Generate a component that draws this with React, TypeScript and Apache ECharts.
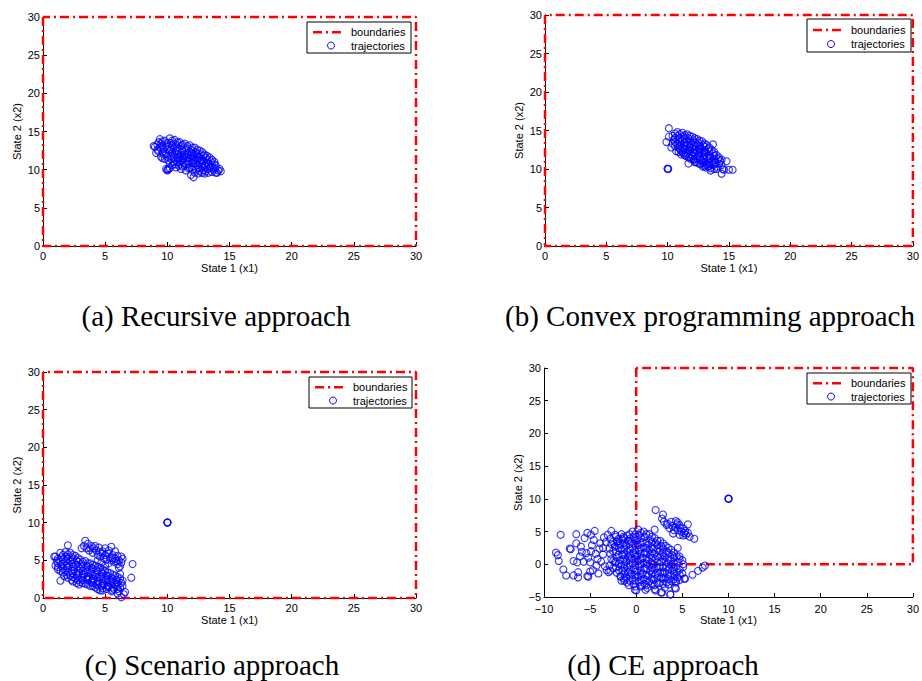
import React, { useEffect, useRef } from "react";
import * as echarts from "echarts";

// ---------- data ----------
const captions = ["(a) Recursive approach", "(b) Convex programming approach", "(c) Scenario approach", "(d) CE approach"];
const legendNames = ["boundaries", "trajectories"];
const xAxisName = "State 1 (x1)";
const yAxisName = "State 2 (x2)";
// axis ranges [min, max] per panel
const xRanges = [[0, 30], [0, 30], [0, 30], [-10, 30]];
const yRanges = [[0, 30], [0, 30], [0, 30], [-5, 30]];
// boundary polygon (same for all panels)
const boundary = [[0, 30], [0, 0], [30, 0], [30, 30], [0, 30]];

const recursivePoints = [
  [9.0, 13.0], [9.1, 12.2], [9.2, 12.6], [8.9, 13.1],
  [9.4, 14.0], [9.5, 13.4], [9.4, 12.9], [9.6, 12.3], [9.5, 11.7], [9.3, 13.6],
  [9.8, 13.8], [9.9, 13.2], [9.7, 12.7], [9.9, 12.1], [9.8, 11.4], [10.0, 10.0], [10.1, 10.1], [10.0, 9.9], [9.9, 10.1],
  [10.2, 14.1], [10.3, 13.5], [10.1, 13.0], [10.2, 12.4], [10.3, 11.8], [10.1, 11.2], [10.4, 10.6], [10.2, 10.2],
  [10.6, 13.9], [10.7, 13.3], [10.5, 12.8], [10.6, 12.2], [10.8, 11.6], [10.5, 11.0], [10.7, 10.3],
  [11.0, 13.6], [11.1, 13.1], [10.9, 12.5], [11.0, 11.9], [11.2, 11.3], [11.0, 10.7], [11.1, 10.1],
  [11.4, 13.4], [11.5, 12.8], [11.3, 12.3], [11.4, 11.7], [11.6, 11.1], [11.4, 10.5], [11.5, 9.9],
  [11.8, 13.2], [11.9, 12.6], [11.7, 12.0], [11.8, 11.5], [12.0, 10.9], [11.8, 10.3], [11.9, 9.3],
  [12.2, 12.9], [12.3, 12.3], [12.1, 11.8], [12.2, 11.2], [12.4, 10.6], [12.1, 9.0], [12.3, 10.0],
  [12.6, 12.5], [12.7, 12.0], [12.5, 11.5], [12.6, 10.9], [12.8, 10.4], [12.6, 9.8],
  [13.0, 12.0], [13.1, 11.6], [12.9, 11.1], [13.0, 10.6], [13.2, 10.1], [13.0, 9.5],
  [13.4, 11.6], [13.5, 11.1], [13.3, 10.7], [13.4, 10.2], [13.6, 9.7],
  [13.8, 11.0], [13.9, 10.5], [13.7, 10.0], [14.0, 9.6],
  [14.2, 10.1], [14.3, 9.8],
  [10.0, 12.7], [10.4, 12.1], [10.8, 12.9], [11.2, 12.6], [11.6, 12.2], [12.0, 11.5], [12.4, 11.3],
  [12.8, 11.2], [13.2, 10.9], [10.4, 13.2], [10.9, 11.3], [11.3, 10.9], [11.7, 10.8], [12.1, 10.4],
  [12.5, 10.2], [12.9, 9.9], [13.3, 9.6], [9.6, 13.1], [10.6, 11.6], [11.9, 11.9], [12.6, 11.7], [13.6, 10.6],
  [9.2, 13.3], [9.3, 12.4], [9.6, 13.7], [9.7, 12.0], [9.6, 11.5], [10.0, 13.5], [10.0, 11.7], [10.2, 10.8],
  [10.4, 13.8], [10.3, 12.6], [10.3, 11.4], [10.6, 10.7], [10.8, 13.6], [10.7, 12.5], [10.8, 12.0], [10.9, 10.5],
  [11.2, 13.3], [11.2, 11.9], [11.3, 11.5], [11.2, 10.4], [11.6, 13.1], [11.6, 11.6], [11.5, 10.7], [11.7, 10.2],
  [12.0, 12.9], [12.0, 12.2], [12.1, 11.0], [12.0, 10.0], [12.2, 9.6], [12.4, 12.6], [12.4, 12.0], [12.3, 10.8],
  [12.5, 9.5], [12.8, 12.3], [12.9, 11.8], [12.8, 10.7], [12.8, 9.6], [13.2, 11.8], [13.2, 11.3], [13.1, 10.4],
  [13.1, 9.8], [13.6, 11.3], [13.5, 10.4], [13.8, 10.7], [13.8, 10.2], [14.1, 9.9], [13.9, 9.6], [11.4, 12.0],
  [11.0, 11.5], [10.8, 11.0], [12.2, 11.6], [12.7, 11.3]
];

const convexPoints = [
  [10.4, 14.3], [10.5, 13.8], [10.4, 13.3],
  [10.8, 14.8], [10.8, 14.3], [10.9, 13.8], [10.8, 13.3], [10.9, 12.8], [10.7, 12.3],
  [11.2, 14.7], [11.3, 14.2], [11.2, 13.7], [11.1, 13.2], [11.3, 12.7], [11.2, 12.2], [11.1, 11.9],
  [11.6, 14.5], [11.7, 14.0], [11.5, 13.5], [11.6, 13.0], [11.7, 12.5], [11.5, 12.0], [11.7, 11.5],
  [12.0, 14.2], [12.1, 13.7], [11.9, 13.2], [12.0, 12.7], [12.1, 12.2], [12.0, 11.7], [12.1, 11.2],
  [12.4, 13.9], [12.5, 13.4], [12.3, 12.9], [12.4, 12.4], [12.5, 11.9], [12.4, 11.4], [12.3, 10.9],
  [12.8, 13.6], [12.9, 13.1], [12.7, 12.6], [12.8, 12.1], [12.9, 11.6], [12.8, 11.1], [12.7, 10.6],
  [13.2, 13.1], [13.3, 12.6], [13.1, 12.1], [13.2, 11.6], [13.3, 11.1], [13.2, 10.6], [13.1, 10.2],
  [13.6, 12.5], [13.7, 12.0], [13.5, 11.5], [13.6, 11.0], [13.7, 10.5], [13.5, 10.1],
  [14.0, 11.8], [14.1, 11.3], [13.9, 10.8], [14.0, 10.3],
  [14.3, 11.0], [14.4, 10.5],
  [11.0, 14.0], [11.4, 13.4], [11.8, 12.8], [12.2, 12.5], [12.6, 12.2], [13.0, 11.8], [13.4, 11.4],
  [13.8, 11.2], [11.4, 12.5], [11.9, 11.9], [12.6, 11.6], [13.0, 10.9], [13.4, 10.8], [11.0, 12.6],
  [12.2, 13.4], [12.6, 13.0], [13.0, 12.5],
  [10.6, 14.6], [10.6, 14.0], [10.6, 13.5], [10.6, 13.0], [11.0, 14.5], [11.0, 13.5], [11.0, 13.0], [10.9, 12.2],
  [11.4, 14.4], [11.4, 14.0], [11.4, 13.0], [11.3, 12.0], [11.4, 11.8], [11.8, 14.3], [11.8, 13.6], [11.8, 13.0],
  [11.8, 12.3], [11.8, 11.6], [12.2, 14.0], [12.2, 13.0], [12.2, 12.0], [12.2, 11.3], [12.2, 10.9], [12.6, 13.7],
  [12.6, 12.6], [12.6, 11.2], [12.6, 10.7], [13.0, 13.3], [13.0, 12.9], [13.0, 12.2], [13.0, 11.4], [13.0, 10.5],
  [13.4, 12.8], [13.4, 12.2], [13.4, 11.7], [13.4, 10.4], [13.8, 12.2], [13.8, 11.7], [13.8, 10.6], [13.8, 10.0],
  [14.2, 11.5], [14.2, 10.7], [14.0, 10.0], [11.1, 12.4], [11.5, 11.7], [11.9, 11.3], [12.4, 10.8], [12.9, 10.8],
  [13.3, 10.3], [14.4, 11.2],
  [10.1, 15.3], [9.9, 13.5], [10.3, 12.8], [10.1, 14.2], [11.7, 10.7], [13.5, 9.8], [14.4, 9.4],
  [14.6, 9.9], [14.8, 11.0], [15.0, 9.9], [15.3, 9.9], [13.7, 13.2], [12.9, 10.3], [14.5, 10.0],
  [10.0, 10.0], [10.05, 10.0], [10.0, 10.05]
];

const scenarioPoints = [
  [1.0, 5.5], [1.1, 4.9], [1.0, 4.3], [1.2, 3.8],
  [1.4, 6.0], [1.5, 5.4], [1.4, 4.8], [1.5, 4.2], [1.4, 3.6], [1.4, 2.3],
  [1.8, 6.1], [1.9, 5.5], [1.8, 4.9], [1.9, 4.3], [1.8, 3.7], [1.9, 3.1],
  [2.2, 6.0], [2.3, 5.4], [2.2, 4.8], [2.1, 4.2], [2.3, 3.6], [2.2, 3.0], [2.3, 2.4],
  [2.6, 5.6], [2.7, 5.0], [2.6, 4.4], [2.5, 3.8], [2.7, 3.2], [2.6, 2.6], [2.7, 2.0],
  [3.0, 5.1], [3.1, 4.5], [3.0, 3.9], [2.9, 3.3], [3.1, 2.7], [3.0, 2.1], [2.9, 1.8],
  [3.4, 4.9], [3.5, 4.3], [3.4, 3.7], [3.3, 3.1], [3.5, 2.5], [3.4, 1.9],
  [3.8, 4.6], [3.9, 4.0], [3.8, 3.4], [3.7, 2.8], [3.9, 2.2], [3.8, 1.6],
  [4.2, 4.3], [4.3, 3.7], [4.2, 3.1], [4.1, 2.5], [4.3, 1.9], [4.2, 1.4],
  [4.6, 4.0], [4.7, 3.4], [4.6, 2.8], [4.5, 2.2], [4.7, 1.6], [4.6, 1.0],
  [5.0, 3.6], [5.1, 3.0], [5.0, 2.4], [4.9, 1.8], [5.1, 1.2],
  [5.4, 3.3], [5.5, 2.7], [5.4, 2.1], [5.3, 1.5], [5.5, 0.9],
  [5.8, 3.0], [5.9, 2.4], [5.8, 1.8], [5.7, 1.2],
  [6.2, 2.6], [6.3, 2.0], [6.2, 1.4], [6.1, 0.9], [6.3, 0.1],
  [0.9, 5.5], [7.2, 4.5], [7.1, 2.7], [6.6, 0.8], [2.0, 7.0], [6.1, 4.0], [6.2, 3.2],
  [1.6, 5.1], [2.0, 4.6], [2.4, 4.1], [2.8, 3.6], [3.2, 3.2], [3.6, 2.9], [4.0, 2.6], [4.4, 2.3],
  [4.8, 2.0], [5.2, 1.7], [5.6, 1.4], [2.0, 5.8], [2.8, 4.8], [3.6, 4.1], [4.4, 3.5], [5.2, 2.9],
  [6.0, 2.1], [1.6, 3.9], [2.4, 3.3], [3.2, 2.4], [4.0, 2.0], [4.8, 1.3],
  [1.2, 5.2], [1.2, 4.6], [1.2, 4.1], [1.6, 5.7], [1.6, 4.5], [1.6, 3.4], [1.7, 2.9], [2.0, 5.2],
  [2.0, 4.0], [2.0, 3.4], [2.0, 2.7], [2.4, 5.7], [2.4, 5.1], [2.4, 4.5], [2.4, 2.8], [2.4, 2.2],
  [2.8, 5.3], [2.8, 4.2], [2.8, 3.0], [2.8, 2.4], [3.2, 4.8], [3.2, 4.2], [3.2, 3.6], [3.2, 2.0],
  [3.6, 4.6], [3.6, 3.5], [3.6, 2.4], [3.6, 1.8], [4.0, 4.4], [4.0, 3.8], [4.0, 3.2], [4.0, 1.6],
  [4.4, 4.1], [4.4, 2.8], [4.4, 1.7], [4.4, 1.2], [4.8, 3.8], [4.8, 3.2], [4.8, 2.6], [4.8, 1.0],
  [5.2, 3.4], [5.2, 2.3], [5.2, 1.5], [5.6, 3.1], [5.6, 2.5], [5.6, 2.0], [5.6, 1.0], [6.0, 2.8],
  [6.0, 1.6], [6.0, 1.2], [6.4, 2.3], [6.4, 1.6], [6.0, 0.6], [6.5, 0.5],
  [3.4, 7.6], [3.6, 7.2], [3.3, 6.9], [3.9, 6.9], [4.1, 6.6], [4.3, 6.3], [3.7, 6.3], [4.0, 6.0],
  [4.6, 6.1], [5.0, 6.6], [5.5, 6.8], [4.8, 6.2], [5.2, 5.9], [5.6, 5.7], [6.0, 5.6], [6.3, 5.5],
  [5.0, 5.7], [5.4, 5.3], [5.8, 5.2], [6.1, 5.0], [4.6, 5.5], [5.1, 5.1], [5.7, 4.8], [6.0, 4.5],
  [4.4, 5.0], [5.3, 4.6], [6.2, 4.2], [3.1, 6.6], [4.5, 6.7],
  [3.5, 6.6], [3.8, 6.6], [4.2, 6.9], [4.4, 5.7], [4.8, 5.9], [5.3, 6.3], [5.8, 6.2], [5.6, 5.3],
  [5.9, 4.9], [6.3, 4.7], [4.9, 5.3], [5.5, 5.0], [4.7, 4.7], [6.4, 5.2], [5.0, 4.3],
  [10.0, 10.0], [10.02, 10.02], [10.0, 10.04]
];

const cePoints = [
  [-2.8, 3.9], [-2.7, 3.1], [-2.9, 2.4], [-2.8, 1.6], [-2.7, 0.8], [-2.9, -0.2], [-2.8, -1.0],
  [-2.2, 4.2], [-2.1, 3.5], [-2.3, 2.7], [-2.2, 1.9], [-2.1, 1.1], [-2.3, 0.3], [-2.2, -0.5], [-2.1, -1.3],
  [-1.6, 4.6], [-1.5, 3.8], [-1.7, 3.0], [-1.6, 2.2], [-1.5, 1.4], [-1.7, 0.6], [-1.6, -0.2], [-1.5, -1.0], [-1.7, -1.8], [-1.6, -2.5],
  [-1.0, 4.4], [-0.9, 3.6], [-1.1, 2.8], [-1.0, 2.0], [-0.9, 1.2], [-1.1, 0.4], [-1.0, -0.4], [-0.9, -1.2], [-1.1, -2.0], [-1.0, -2.8],
  [-0.4, 5.0], [-0.3, 4.2], [-0.5, 3.4], [-0.4, 2.6], [-0.3, 1.8], [-0.5, 1.0], [-0.4, 0.2], [-0.3, -0.6], [-0.5, -1.4], [-0.4, -2.2], [-0.3, -3.0],
  [0.2, 5.3], [0.3, 4.5], [0.1, 3.7], [0.2, 2.9], [0.3, 2.1], [0.1, 1.3], [0.2, 0.5], [0.3, -0.3], [0.1, -1.1], [0.2, -1.9], [0.3, -2.7], [0.0, -4.0],
  [0.8, 5.0], [0.9, 4.2], [0.7, 3.4], [0.8, 2.6], [0.9, 1.8], [0.7, 1.0], [0.8, 0.2], [0.9, -0.6], [0.7, -1.4], [0.8, -2.2], [0.9, -3.0],
  [1.4, 4.6], [1.5, 3.8], [1.3, 3.0], [1.4, 2.2], [1.5, 1.4], [1.3, 0.6], [1.4, -0.2], [1.5, -1.0], [1.3, -1.8], [1.4, -2.6], [1.2, -3.6],
  [2.0, 4.0], [2.1, 3.2], [1.9, 2.4], [2.0, 1.6], [2.1, 0.8], [1.9, 0.0], [2.0, -0.8], [2.1, -1.6], [1.9, -2.4], [2.0, -3.2], [2.1, -4.0],
  [2.6, 3.6], [2.7, 2.8], [2.5, 2.0], [2.6, 1.2], [2.7, 0.4], [2.5, -0.4], [2.6, -1.2], [2.7, -2.0], [2.5, -2.8], [2.8, -4.3],
  [3.2, 2.8], [3.3, 2.0], [3.1, 1.2], [3.2, 0.4], [3.3, -0.4], [3.1, -1.2], [3.2, -2.0], [3.3, -2.8], [3.1, -3.6],
  [3.8, 2.2], [3.9, 1.4], [3.7, 0.6], [3.8, -0.2], [3.9, -1.0], [3.7, -1.8], [3.8, -2.6], [3.7, -4.6],
  [4.4, 1.2], [4.5, 0.4], [4.3, -0.4], [4.4, -1.2], [4.5, -2.0], [4.3, -2.8], [4.2, -3.6],
  [5.0, 0.6], [5.1, -0.4], [5.0, -1.4], [5.2, -2.2],
  [-1.3, 3.2], [-0.7, 2.3], [-0.1, 1.5], [0.5, 0.8], [1.1, 0.1], [1.7, -0.6], [2.3, -1.3], [-1.3, 1.6],
  [-0.7, 0.7], [-0.1, -0.1], [0.5, -0.9], [1.1, -1.6], [-0.7, 3.9], [0.5, 2.4], [1.1, 1.7], [1.7, 1.0],
  [2.3, 0.3], [2.9, -0.5], [0.5, 4.0], [1.1, 3.3], [1.7, 2.6], [2.3, 2.4], [2.9, 1.6], [3.5, 0.9],
  [-1.9, 2.5], [-1.9, 0.1], [0.5, -2.4], [1.7, -3.0], [2.9, -2.2], [3.5, -1.5], [4.1, -0.7], [-0.1, -2.5], [-1.3, -1.4],
  [-2.5, 3.5], [-2.5, 2.0], [-2.5, 0.5], [-2.5, -0.6], [-1.9, 3.9], [-1.9, 3.1], [-1.9, 1.5], [-1.9, -0.9],
  [-1.3, 4.0], [-1.3, 2.4], [-1.3, 0.8], [-1.3, 0.0], [-1.3, -0.6], [-1.3, -2.2], [-0.7, 4.6], [-0.7, 3.1],
  [-0.7, 1.5], [-0.7, -0.1], [-0.7, -0.9], [-0.7, -1.7], [-0.7, -2.5], [-0.1, 4.6], [-0.1, 3.8], [-0.1, 3.0],
  [-0.1, 2.2], [-0.1, 0.7], [-0.1, -0.9], [-0.1, -1.7], [-0.1, -3.4], [0.5, 4.8], [0.5, 3.2], [0.5, 1.6],
  [0.5, 0.0], [0.5, -1.6], [0.5, -3.4], [1.1, 4.6], [1.1, 2.5], [1.1, 0.9], [1.1, -0.7], [1.1, -2.4],
  [1.1, -3.2], [1.7, 4.2], [1.7, 3.4], [1.7, 1.8], [1.7, 0.2], [1.7, -1.4], [1.7, -2.2], [2.3, 3.6],
  [2.3, 2.9], [2.3, 1.2], [2.3, -0.5], [2.3, -2.1], [2.3, -2.9], [2.9, 3.2], [2.9, 2.4], [2.9, 0.8],
  [2.9, -1.4], [2.9, -3.0], [3.5, 2.5], [3.5, 1.7], [3.5, 0.1], [3.5, -0.7], [3.5, -2.3], [3.5, -3.1],
  [4.1, 1.8], [4.1, 1.0], [4.1, 0.1], [4.1, -1.5], [4.1, -2.3], [4.7, 0.8], [4.7, -0.8], [4.7, -1.6], [4.7, -2.4],
  [-8.7, 1.8], [-8.5, 1.4], [-8.2, 4.5], [-8.4, 0.5], [-7.9, -0.8], [-7.6, -1.7], [-7.2, 2.4], [-6.8, -1.7],
  [-6.5, 4.6], [-6.5, 3.2], [-6.4, 0.3], [-6.3, -2.0], [-6.8, 0.5], [-6.1, 1.2], [-6.0, 2.7], [-5.6, 4.0],
  [-5.3, 4.8], [-5.4, 1.7], [-5.2, 1.0], [-5.3, -1.8], [-5.0, -1.1], [-4.9, 4.5], [-4.5, 5.1], [-4.6, 3.7],
  [-4.7, -0.9], [-4.3, -0.2], [-4.2, 0.8], [-4.0, 2.4], [-3.6, 1.5], [-3.3, 3.4], [-3.1, 4.5], [-2.7, 5.1],
  [-3.2, -0.9], [-3.0, -1.2], [-2.3, 4.5], [-2.0, 3.4], [-1.4, 4.2], [-2.2, 0.4], [-1.7, -1.9], [-1.3, -2.5],
  [-0.8, -3.2], [-0.15, -3.9], [0.6, -3.2], [1.0, -3.9], [2.0, -3.8], [2.7, -4.3], [3.7, -4.6], [4.3, -3.7],
  [4.3, -2.6], [5.3, -2.2], [6.1, -1.6], [6.7, -1.0], [7.2, -0.5], [7.45, -0.2], [5.1, 0.0], [4.7, 1.2], [4.5, 2.5],
  [-7.1, 2.3], [-6.3, -1.2], [-5.2, -1.9], [-5.7, 0.4], [-5.9, 1.9], [-4.8, 2.9], [-4.4, 1.6], [-3.9, 3.2],
  [-3.5, 4.1], [-3.8, 0.4], [-3.4, -0.3], [-4.1, -1.4], [-5.0, 0.3], [-4.9, 2.0], [-3.6, 2.5],
  [2.1, 8.3], [2.9, 7.6], [2.8, 7.0], [3.0, 6.5], [3.4, 6.2], [3.8, 6.5], [4.3, 6.6], [4.7, 6.0],
  [5.6, 6.1], [5.1, 5.5], [4.5, 5.2], [4.0, 4.7], [4.7, 4.5], [5.4, 4.5], [5.8, 4.2], [6.3, 3.9],
  [4.2, 5.7], [3.6, 5.5], [3.3, 6.0], [4.9, 5.0], [2.0, 5.3], [4.4, 6.1], [4.8, 5.6], [5.3, 5.1],
  [5.1, 4.4], [3.9, 5.9], [4.5, 6.4], [5.2, 4.8], [4.1, 5.2], [5.6, 4.8],
  [10.0, 10.0], [10.03, 10.0], [10.0, 10.05]
];

const panelPoints = [recursivePoints, convexPoints, scenarioPoints, cePoints];

// ---------- layout ----------
const grids = [
  { left: 43, top: 17, width: 373, height: 229 },
  { left: 545, top: 15, width: 371, height: 231 },
  { left: 43, top: 372, width: 373, height: 226 },
  { left: 544, top: 368, width: 372, height: 229 },
];
const xLabelMargins = [4, 4, 4, 6];
const legendBoxes = [
  { x: 307, y: 22, w: 104, h: 31 },
  { x: 807, y: 19, w: 104, h: 33 },
  { x: 309, y: 377, w: 103, h: 31 },
  { x: 807, y: 373, w: 104, h: 31 },
];
const captionPos = [
  { x: 216, y: 316, align: "center" },
  { x: 505, y: 316, align: "left" },
  { x: 212, y: 665, align: "center" },
  { x: 663, y: 665, align: "center" },
];

const sans = "'Liberation Sans', Arial, Helvetica, sans-serif";
const serif = "'Liberation Serif', 'Times New Roman', serif";
const minus = (v: number) => String(v).replace("-", "\u2212");

export default function App() {
  const ref = useRef<HTMLDivElement>(null);
  useEffect(() => {
    if (!ref.current) return;
    const chart = echarts.init(ref.current, undefined, { renderer: "svg" });

    const xAxis = grids.map((_, i) => ({
      type: "value",
      gridIndex: i,
      min: xRanges[i][0],
      max: xRanges[i][1],
      interval: 5,
      axisLine: { onZero: false, lineStyle: { color: "#000", width: 1 } },
      axisTick: { inside: true, length: 4, lineStyle: { color: "#000" } },
      axisLabel: { color: "#000", fontSize: 11, fontFamily: sans, margin: xLabelMargins[i], formatter: minus },
      splitLine: { show: false },
      name: xAxisName,
      nameLocation: "middle",
      nameGap: 16,
      nameTextStyle: { color: "#000", fontSize: 11, fontFamily: sans },
    }));
    const yAxis = grids.map((_, i) => ({
      type: "value",
      gridIndex: i,
      min: yRanges[i][0],
      max: yRanges[i][1],
      interval: 5,
      axisLine: { onZero: false, lineStyle: { color: "#000", width: 1 } },
      axisTick: { inside: true, length: 4, lineStyle: { color: "#000" } },
      axisLabel: { color: "#000", fontSize: 11, fontFamily: sans, margin: 3, formatter: minus },
      splitLine: { show: false },
      name: yAxisName,
      nameLocation: "middle",
      nameGap: 21,
      nameTextStyle: { color: "#000", fontSize: 11, fontFamily: sans },
    }));

    const series: any[] = [];
    grids.forEach((_, i) => {
      series.push({
        type: "line",
        name: legendNames[0],
        xAxisIndex: i,
        yAxisIndex: i,
        data: boundary,
        symbol: "none",
        clip: false,
        silent: true,
        lineStyle: { color: "#ff0000", width: 2.5, type: [9, 4, 2, 4] },
        z: 2,
      });
      series.push({
        type: "scatter",
        name: legendNames[1],
        xAxisIndex: i,
        yAxisIndex: i,
        data: panelPoints[i],
        symbol: "circle",
        symbolSize: 7,
        silent: true,
        itemStyle: { color: "rgba(0,0,0,0)", borderColor: "#0000ff", borderWidth: 1.1 },
        z: 3,
      });
    });

    const graphic: any[] = [];
    legendBoxes.forEach((b) => {
      graphic.push({
        type: "rect",
        shape: { x: b.x, y: b.y, width: b.w, height: b.h },
        style: { fill: "#fff", stroke: "#000", lineWidth: 1 },
        z: 100,
      });
      const y1 = b.y + b.h * 0.33;
      const y2 = b.y + b.h * 0.76;
      graphic.push({
        type: "line",
        shape: { x1: b.x + 6, y1, x2: b.x + 38, y2: y1 },
        style: { stroke: "#ff0000", lineWidth: 2.5, lineDash: [9, 4, 2, 4] },
        z: 101,
      });
      graphic.push({
        type: "circle",
        shape: { cx: b.x + 24, cy: y2, r: 3.5 },
        style: { fill: "none", stroke: "#0000ff", lineWidth: 1 },
        z: 101,
      });
      graphic.push({
        type: "text",
        x: b.x + 44,
        y: y1,
        style: { text: legendNames[0], fill: "#000", font: `11px ${sans}`, textVerticalAlign: "middle", verticalAlign: "middle" },
        z: 101,
      });
      graphic.push({
        type: "text",
        x: b.x + 44,
        y: y2,
        style: { text: legendNames[1], fill: "#000", font: `11px ${sans}`, textVerticalAlign: "middle", verticalAlign: "middle" },
        z: 101,
      });
    });
    captionPos.forEach((c, i) => {
      graphic.push({
        type: "text",
        x: c.x,
        y: c.y,
        style: {
          text: captions[i],
          fill: "#000",
          font: `29px ${serif}`,
          align: c.align,
          textAlign: c.align,
          verticalAlign: "middle",
          textVerticalAlign: "middle",
        },
        z: 101,
      });
    });

    chart.setOption({
      animation: false,
      backgroundColor: "#fff",
      grid: grids,
      xAxis,
      yAxis,
      series,
      graphic,
    });
    return () => chart.dispose();
  }, []);
  return <div ref={ref} style={{ position: "absolute", left: 0, top: 0, width: 922, height: 681 }} />;
}
